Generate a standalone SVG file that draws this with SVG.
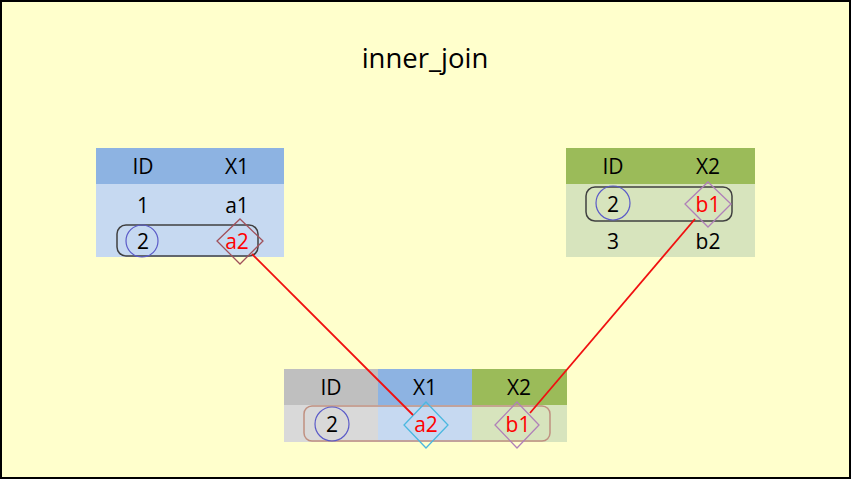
<svg xmlns="http://www.w3.org/2000/svg" width="851" height="479" viewBox="0 0 851 479">
<style>
text{font-family:"Open Sans","Liberation Sans",sans-serif;font-size:21px;text-anchor:middle;dominant-baseline:central;fill:#000}
.red{fill:#FF0000}
.title{font-size:27.5px}
.circ{fill:none;stroke:#5B5BC8;stroke-width:1.2}
.rr{fill:none;stroke:#404040;stroke-width:1.5}
.dia{fill:none;stroke-width:1.3}
.conn{stroke:#F01010;stroke-width:1.8;fill:none}
</style>
<rect x="1" y="1" width="849" height="477" fill="#FFFFCC" stroke="#000" stroke-width="2"/>
<text class="title" x="425" y="57">inner_join</text>
<g id="tableA">
<rect x="96" y="148" width="188" height="36" fill="#8DB3E2"/>
<rect x="96" y="184" width="188" height="73" fill="#C6D9F1"/>
<text x="143" y="166">ID</text><text x="237" y="166">X1</text>
<text x="143" y="205">1</text><text x="237" y="205">a1</text>
<text x="143" y="241">2</text><text class="red" x="237" y="241">a2</text>
<rect class="rr" x="117" y="225" width="141" height="31" rx="9"/>
<circle class="circ" cx="142" cy="241" r="16"/>
<polygon class="dia" stroke="#A0505A" points="240,219 263,241 240,264 217,241"/>
</g>
<g id="tableB">
<rect x="566" y="148" width="189" height="36" fill="#9BBB59"/>
<rect x="566" y="184" width="189" height="73" fill="#D7E4BD"/>
<text x="613" y="166">ID</text><text x="708" y="166">X2</text>
<text x="613" y="204">2</text><text class="red" x="708" y="204">b1</text>
<text x="613" y="241">3</text><text x="708" y="241">b2</text>
<rect class="rr" x="586" y="187" width="146" height="34" rx="9"/>
<circle class="circ" cx="613" cy="203" r="17"/>
<polygon class="dia" stroke="#B080B8" points="708,182 731,204 708,227 685,204"/>
</g>
<g id="result">
<rect x="284" y="369" width="94" height="36" fill="#BFBFBF"/>
<rect x="378" y="369" width="94" height="36" fill="#8DB3E2"/>
<rect x="472" y="369" width="95" height="36" fill="#9BBB59"/>
<rect x="284" y="405" width="94" height="37" fill="#D9D9D9"/>
<rect x="378" y="405" width="94" height="37" fill="#C6D9F1"/>
<rect x="472" y="405" width="95" height="37" fill="#D7E4BD"/>
<text x="331" y="387">ID</text><text x="425" y="387">X1</text><text x="519" y="387">X2</text>
<text x="332" y="424">2</text><text class="red" x="426" y="424">a2</text><text class="red" x="518" y="424">b1</text>
<rect class="rr" x="304" y="406" width="246" height="35" rx="8" style="stroke:#C09080"/>
<circle class="circ" cx="332" cy="424" r="17"/>
<polygon class="dia" stroke="#4BB8E0" points="426,402 448,425 426,448 404,425"/>
<polygon class="dia" stroke="#B080B8" points="517,402 539,425 517,448 495,425"/>
</g>
<g id="connectors">
<line class="conn" x1="252" y1="254" x2="413" y2="415"/>
<line class="conn" x1="695" y1="219" x2="530" y2="413"/>
</g>
</svg>
